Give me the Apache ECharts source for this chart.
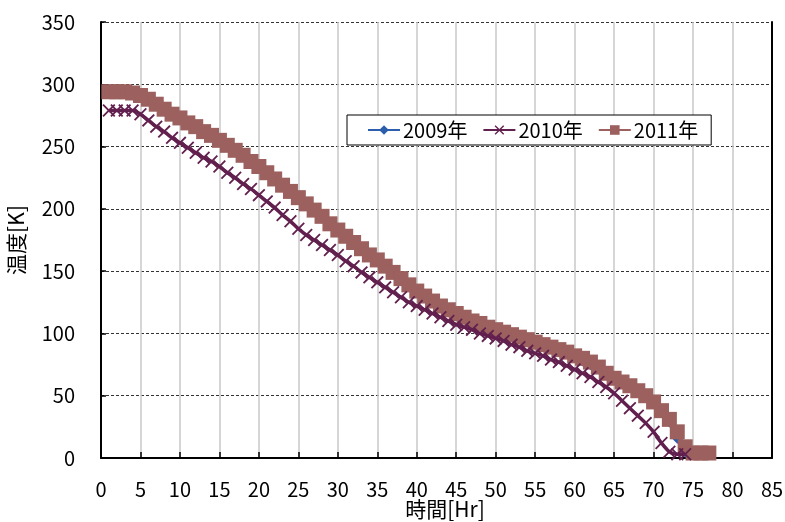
<!DOCTYPE html>
<html>
<head>
<meta charset="utf-8">
<script src="https://cdn.jsdelivr.net/npm/echarts@6/dist/echarts.min.js"></script>
<style>html,body{margin:0;padding:0;background:#fff;}#c{width:785px;height:522px;}</style>
</head>
<body>
<div id="c"></div>
<script>
var xTicks = [0,5,10,15,20,25,30,35,40,45,50,55,60,65,70,75,80,85];
var yTicks = [0,50,100,150,200,250,300,350];
var seriesNames = ['2009年','2010年','2011年'];
var xName = '時間[Hr]';

var v2009 = [292,292,292,291,289,286,282,278,274,271,267,264,260,257,253,249,245,241,236,232,227,222,217,212,207,202,197,192,186,181,176,171,166,161,157,152,147,142,137,132,128,124,120,117,114,111,108,106,103,101,99,97,95,93,91,89,87,85,83,80,77,74,71,66,62,59,56,52,48,43,36,28,15,4,3];
var v2010 = [279,279,279,279,276,271,266,262,257,253,249,245,241,238,234,229,225,220,216,211,206,201,195,190,184,179,175,171,167,163,158,154,149,145,141,137,133,129,125,122,119,116,113,110,107,105,103,100,98,96,94,91,89,86,84,82,79,77,74,71,68,65,61,57,52,46,40,34,28,21,12,5,3,3];
var v2011 = [294,294,294,293,291,288,284,280,276,273,269,266,262,259,255,251,247,243,238,234,229,224,219,214,209,204,199,194,188,183,178,173,168,163,159,154,149,144,139,134,130,126,122,119,116,113,110,108,105,103,101,99,97,95,93,91,89,87,85,82,80,77,73,68,64,61,58,54,50,45,38,31,21,9,4,4,4];

function pairs(vals){ return vals.map(function(v,i){ return [i+1, v]; }); }

var fontFam = '"Noto Sans CJK JP", "Noto Sans", sans-serif';
var crossPath = 'path://M0,1 L1,0 L5,4 L9,0 L10,1 L6,5 L10,9 L9,10 L5,6 L1,10 L0,9 L4,5 Z';

var chart = echarts.init(document.getElementById('c'), null, {renderer:'canvas'});
chart.setOption({
  animation: false,
  backgroundColor: '#fff',
  textStyle: {fontFamily: fontFam},
  grid: {left: 101, right: 13, top: 22, bottom: 64, containLabel: false, outerBoundsMode: 'none'},
  graphic: [{
    type: 'text', x: 445, y: 499,
    style: {text: xName, fontSize: 21, fill: '#000', fontFamily: fontFam, align: 'center', verticalAlign: 'top'}
  }],
  legend: {
    left: 347, top: 115,
    padding: [5, 13, 5, 20],
    itemWidth: 32, itemHeight: 12, itemGap: 15,
    borderColor: '#000', borderWidth: 1,
    backgroundColor: '#fff',
    textStyle: {fontSize: 20, color: '#000', fontFamily: fontFam, padding: [0,0,0,-2]},
    data: seriesNames
  },
  xAxis: {
    type: 'value', min: 0, max: 85, interval: 5,
    axisLine: {show: true, onZero: false, lineStyle: {color: '#000', width: 2}},
    axisTick: {show: true, inside: true, length: 6, lineStyle: {color: '#000', width: 1.5}},
    axisLabel: {fontSize: 20, color: '#000', margin: 21,
      formatter: function(v){ return xTicks.indexOf(v) >= 0 ? String(v) : ''; }},
    splitLine: {show: true, lineStyle: {color: '#c8c8c8', width: 1.5, type: 'solid'}}
  },
  yAxis: [{
    type: 'value', min: 0, max: 350, interval: 50,
    name: '温度[K]', nameLocation: 'middle', nameGap: 74, nameRotate: 90, nameMoveOverlap: false,
    nameTextStyle: {fontSize: 21, color: '#000', fontFamily: fontFam},
    axisLine: {show: true, lineStyle: {color: '#000', width: 2}},
    axisTick: {show: true, inside: true, length: 5, lineStyle: {color: '#000', width: 1.5}},
    axisLabel: {fontSize: 20, color: '#000', margin: 26,
      formatter: function(v){ return yTicks.indexOf(v) >= 0 ? String(v) : ''; }},
    splitLine: {show: true, lineStyle: {color: '#333', width: 1, type: [3, 2]}}
  }, {
    type: 'value', min: 0, max: 350, interval: 50, position: 'right',
    axisLine: {show: true, lineStyle: {color: '#000', width: 2}},
    axisTick: {show: false}, axisLabel: {show: false}, splitLine: {show: false}
  }],
  series: [{
    name: seriesNames[0], type: 'line', data: pairs(v2009), smooth: 0.3,
    symbol: 'diamond', symbolSize: 9, showSymbol: true,
    itemStyle: {color: '#2B5EAB'}, lineStyle: {color: '#2B5EAB', width: 3}, z: 2
  }, {
    name: seriesNames[1], type: 'line', data: pairs(v2010), smooth: 0.3,
    symbol: crossPath, symbolSize: 13, showSymbol: true,
    itemStyle: {color: '#62204F'}, lineStyle: {color: '#62204F', width: 3.5}, z: 4
  }, {
    name: seriesNames[2], type: 'line', data: pairs(v2011), smooth: 0.3,
    symbol: 'rect', symbolSize: 15, showSymbol: true,
    itemStyle: {color: '#9C615E'}, lineStyle: {color: '#9C615E', width: 3.5}, z: 3
  }]
});
</script>
</body>
</html>
